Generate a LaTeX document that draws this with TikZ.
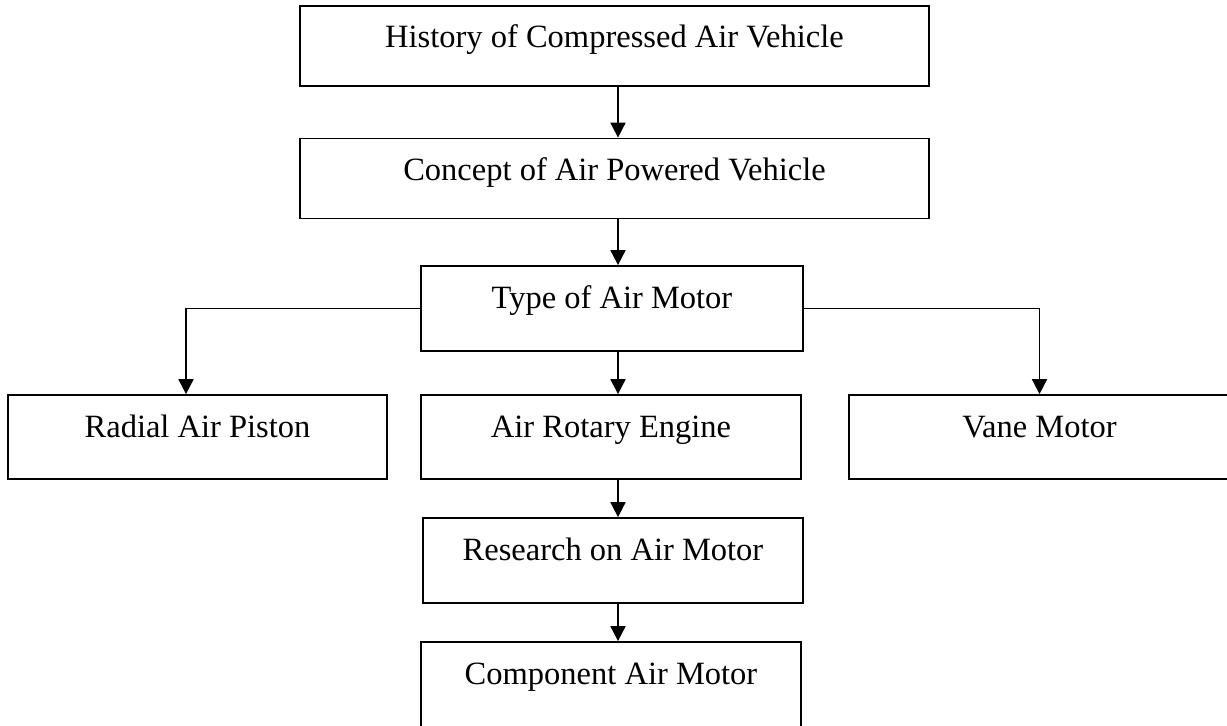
\documentclass[tikz,border=0pt]{standalone}
\usepackage{fontspec}
\setmainfont{Liberation Serif}
\usetikzlibrary{arrows.meta, positioning}

\begin{document}
\begin{tikzpicture}[
    x=0.02cm, y=-0.02cm,
    box/.style={draw, line width=1pt, inner xsep=0pt, inner ysep=0pt,
                text height=0.84cm, text depth=0.76cm, align=center,
                font=\fontsize{18.5}{22}\selectfont},
    tallbox/.style={box, text depth=0.86cm},
    arr/.style={-{Triangle[width=0.3cm, length=0.3cm]}, line width=1pt}
]
\useasboundingbox (0,0) rectangle (1227,726);
\clip (0,0) rectangle (1227,726);

% ============================================================
% MAIN COLUMN
% ============================================================
\node[box, minimum width=12.58cm] (hist)    at (614.5, 46)  {History of Compressed Air Vehicle};
\node[box, minimum width=12.58cm] (concept) at (614.5, 178.5) {Concept of Air Powered Vehicle};
\node[tallbox, minimum width=7.64cm] (type) at (612, 308.5) {Type of Air Motor};

% ============================================================
% MOTOR TYPES
% ============================================================
\node[tallbox, minimum width=7.58cm, text depth=0.84cm] (radial) at (197.5, 437) {Radial Air Piston};
\node[tallbox, minimum width=7.60cm, text depth=0.84cm] (rotary) at (611, 437)   {Air Rotary Engine};
\node[tallbox, minimum width=7.62cm, text depth=0.84cm] (vane)   at (1039.5, 437) {Vane Motor};

% lower chain
\node[tallbox, minimum width=7.60cm] (research)  at (613, 560.5) {Research on Air Motor};
\node[tallbox, minimum width=7.60cm] (component) at (611, 684.5) {Component Air Motor};

% arrows
\coordinate (mid)  at (618, 0);
\coordinate (left) at (186, 0);
\draw[arr] (hist.south -| mid)     -- (concept.north -| mid);
\draw[arr] (concept.south -| mid)  -- (type.north -| mid);
\draw[arr] (type.south -| mid)     -- (rotary.north -| mid);
\draw[arr] (rotary.south -| mid)   -- (research.north -| mid);
\draw[arr] (research.south -| mid) -- (component.north -| mid);

% branches
\draw[arr] (type.west) -| (radial.north -| left);
\draw[arr] (type.east) -| (vane.north);

\end{tikzpicture}
\end{document}
